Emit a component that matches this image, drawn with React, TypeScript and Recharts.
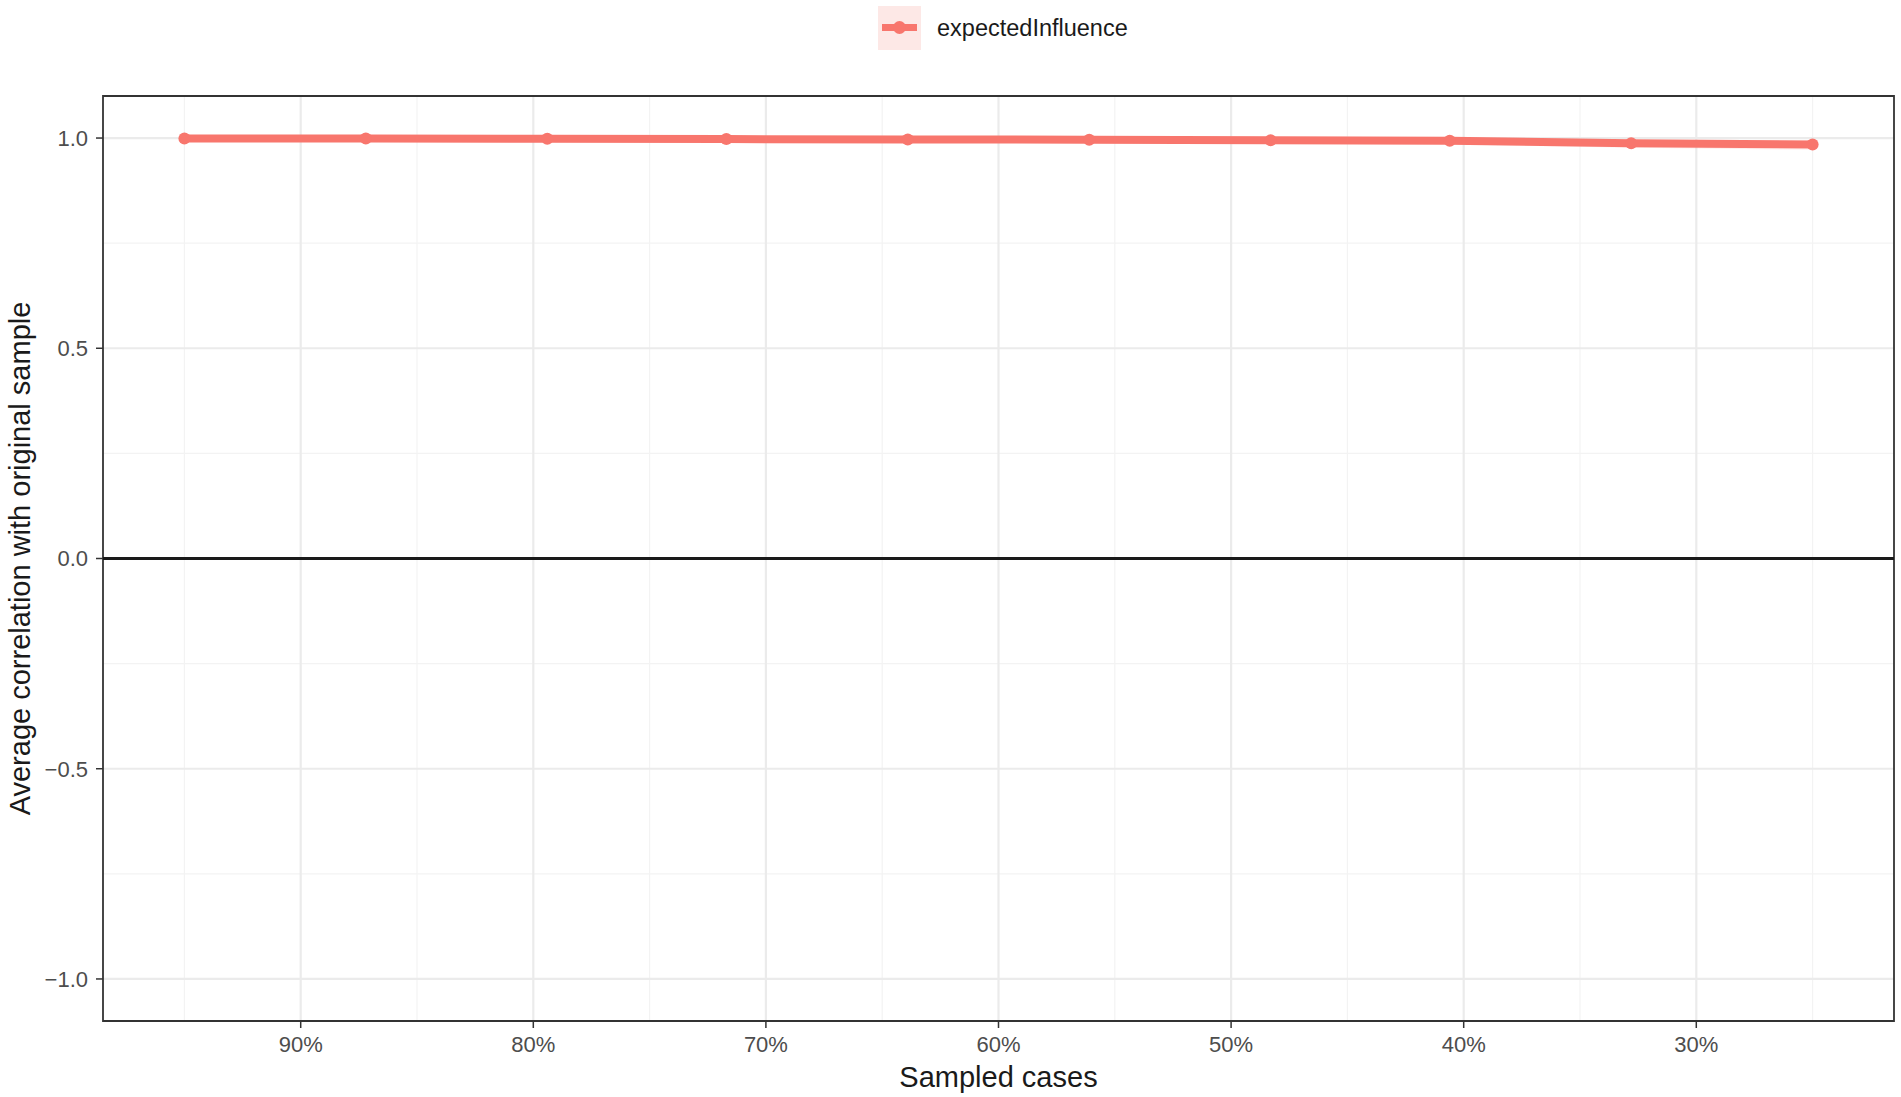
import {
  ComposedChart,
  Line,
  Area,
  XAxis,
  YAxis,
  CartesianGrid,
  ReferenceLine,
  ReferenceArea,
} from "recharts"

const sampled = [95, 87.2, 79.4, 71.7, 63.9, 56.1, 48.3, 40.6, 32.8, 25]
const expectedInfluence = [0.999, 0.999, 0.9985, 0.9976, 0.9967, 0.996, 0.995, 0.9935, 0.9875, 0.9845]
const lower = [0.998, 0.997, 0.996, 0.995, 0.993, 0.991, 0.989, 0.985, 0.977, 0.972]
const upper = [1.0, 1.0, 1.0, 0.9995, 0.999, 0.999, 0.998, 0.997, 0.995, 0.994]

const xTicks = [30, 40, 50, 60, 70, 80, 90]
const xMinor = [25, 35, 45, 55, 65, 75, 85, 95]
const yTicks = [-1, -0.5, 0, 0.5, 1]
const yMinor = [-0.75, -0.25, 0.25, 0.75]

const RED = "#F8766D"
const FONT = "'Liberation Sans', Arial, sans-serif"

const data = sampled.map((x, i) => ({
  x,
  value: expectedInfluence[i],
  band: [lower[i], upper[i]],
}))

export default function App() {
  return (
    <div style={{ position: "absolute", left: 0, top: 0, width: 1901, height: 1097, background: "#fff", fontFamily: FONT }}>
      <div
        style={{
          position: "absolute",
          top: 6,
          left: 878,
          display: "flex",
          alignItems: "center",
          height: 44,
        }}
      >
        <div style={{ width: 43, height: 44, background: "#FDE8E6", position: "relative" }}>
          <div style={{ position: "absolute", left: 4, right: 4, top: 18, height: 7, background: RED }} />
          <div
            style={{
              position: "absolute",
              left: 15,
              top: 15,
              width: 13,
              height: 13,
              borderRadius: "50%",
              background: RED,
            }}
          />
        </div>
        <span style={{ marginLeft: 16, fontSize: 23.5, color: "#1a1a1a" }}>expectedInfluence</span>
      </div>

      <ComposedChart
        width={1901}
        height={1097}
        data={data}
        margin={{ top: 96, right: 7, bottom: 0, left: 0 }}
        style={{ fontFamily: FONT }}
      >
        <CartesianGrid
          horizontalValues={yMinor}
          verticalValues={xMinor}
          stroke="#F3F3F3"
          strokeWidth={1.2}
        />
        <CartesianGrid
          horizontalValues={yTicks}
          verticalValues={xTicks}
          stroke="#EBEBEB"
          strokeWidth={2.2}
        />
        <XAxis
          dataKey="x"
          type="number"
          domain={[21.5, 98.5]}
          reversed
          ticks={xTicks}
          tickFormatter={(v) => `${v}%`}
          height={76}
          tickSize={7}
          tickMargin={8}
          axisLine={false}
          tickLine={{ stroke: "#333", strokeWidth: 1.5 }}
          tick={{ fill: "#4D4D4D", fontSize: 22 }}
          label={{ value: "Sampled cases", position: "insideBottom", offset: 10, fill: "#1a1a1a", fontSize: 29 }}
        />
        <YAxis
          type="number"
          domain={[-1.1, 1.1]}
          ticks={yTicks}
          tickFormatter={(v) => (v < 0 ? `\u2212${Math.abs(v).toFixed(1)}` : v.toFixed(1))}
          width={103}
          tickSize={7}
          tickMargin={8}
          axisLine={false}
          tickLine={{ stroke: "#333", strokeWidth: 1.5 }}
          tick={{ fill: "#4D4D4D", fontSize: 22 }}
          label={{
            value: "Average correlation with original sample",
            angle: -90,
            position: "insideLeft",
            offset: 20,
            style: { textAnchor: "middle" },
            fill: "#1a1a1a",
            fontSize: 29,
          }}
          allowDataOverflow
        />
        <ReferenceLine y={0} stroke="#1a1a1a" strokeWidth={3} />
        <Area
          dataKey="band"
          stroke="none"
          fill={RED}
          fillOpacity={0.12}
          isAnimationActive={false}
          legendType="none"
        />
        <Line
          dataKey="value"
          stroke={RED}
          strokeWidth={8}
          dot={{ r: 6, fill: RED, stroke: "none" }}
          activeDot={false}
          isAnimationActive={false}
        />
        <ReferenceArea
          x1={21.5}
          x2={98.5}
          y1={-1.1}
          y2={1.1}
          fill="none"
          stroke="#333"
          strokeWidth={1.8}
          ifOverflow="visible"
        />
      </ComposedChart>
    </div>
  )
}
